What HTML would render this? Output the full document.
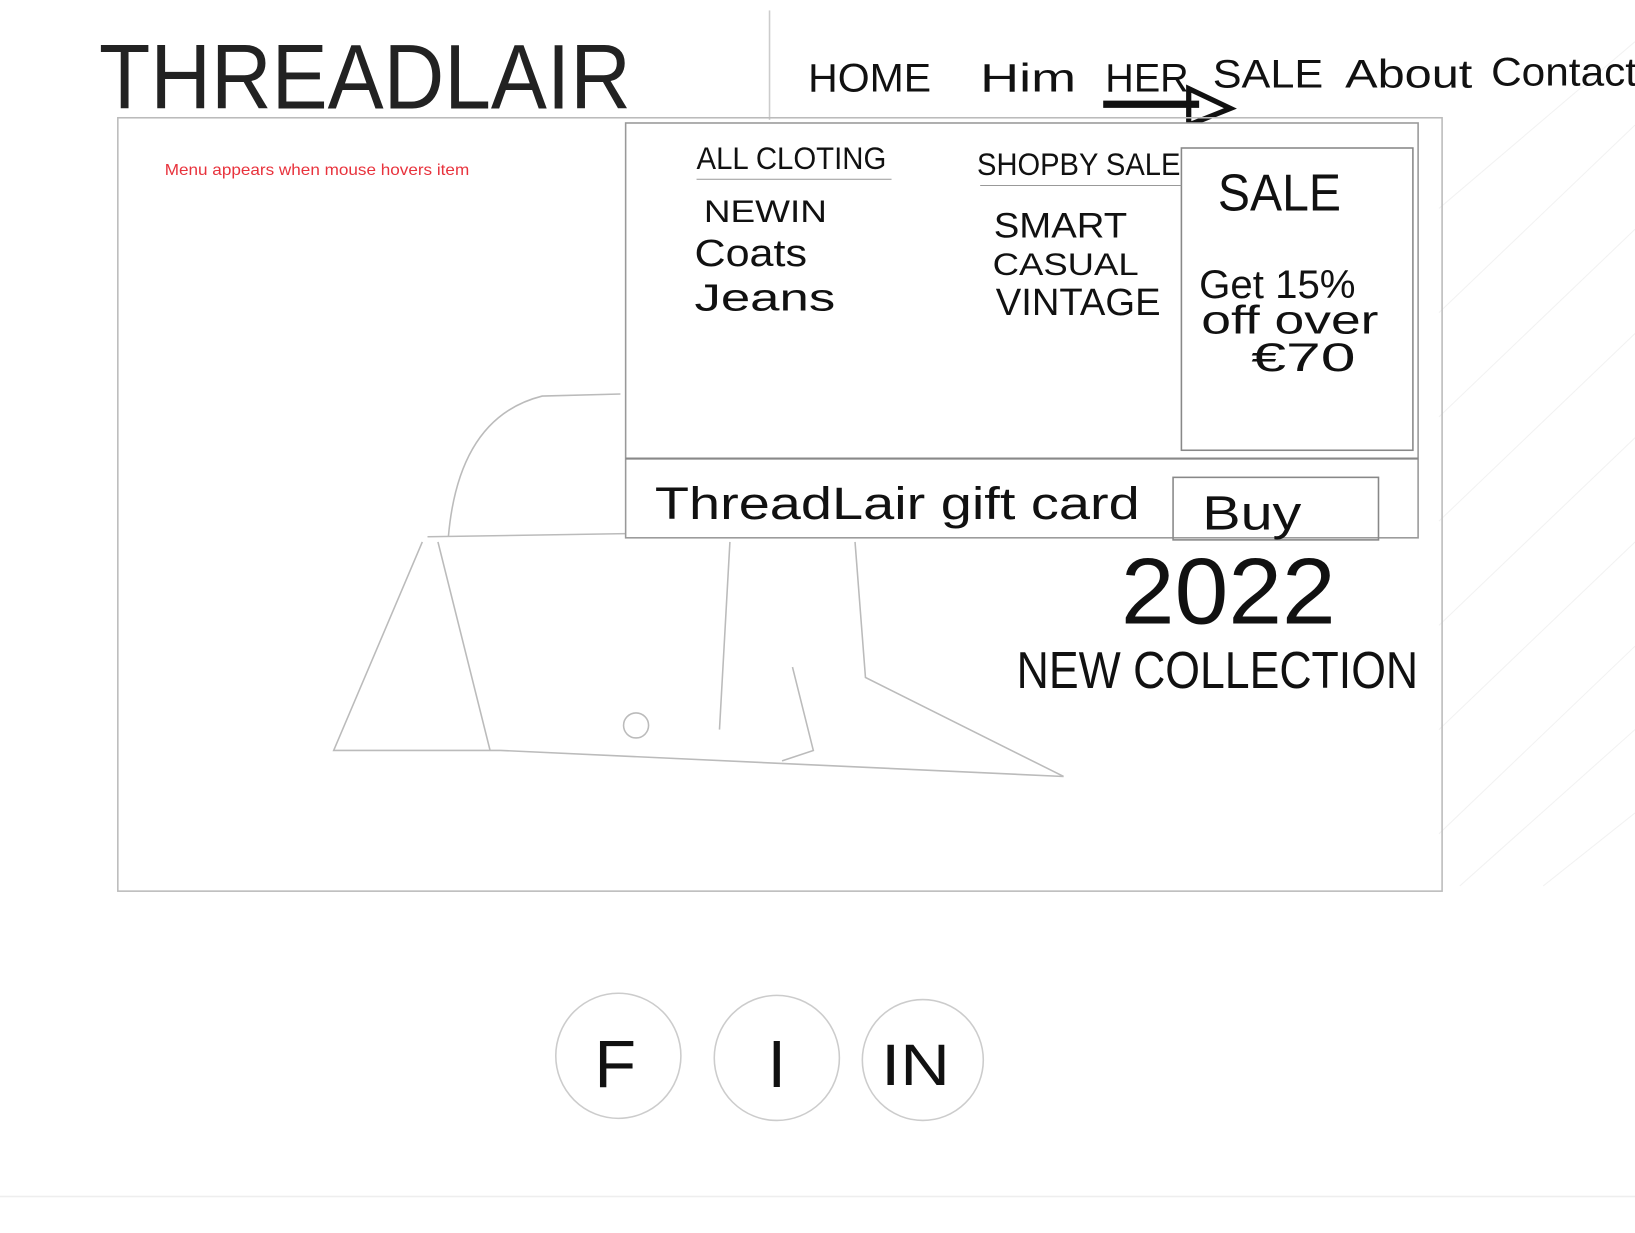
<!DOCTYPE html>
<html><head><meta charset="utf-8"><style>
html,body{margin:0;padding:0;background:#fff;}
svg{display:block;}
text{font-family:"Liberation Sans",sans-serif;fill:#111;}
</style></head><body>
<svg width="1635" height="1233" viewBox="0 0 1568 1183" preserveAspectRatio="none" xmlns="http://www.w3.org/2000/svg">
<rect width="1568" height="1183" fill="#fff"/>
<g stroke="#f2f2f2" stroke-width="1">
<path d="M1380 300 L1568 120 M1380 400 L1568 220 M1380 500 L1568 320 M1380 600 L1568 420 M1380 700 L1568 520 M1380 800 L1568 620 M1400 850 L1568 700 M1480 850 L1568 780 M1380 200 L1568 40"/>
</g>
<text x="95" y="104" font-size="88" textLength="510" lengthAdjust="spacingAndGlyphs" style="font-weight:300;fill:#222">THREADLAIR</text>
<line x1="738" y1="10" x2="738" y2="115" stroke="#ccc" stroke-width="1.5"/>
<g font-size="38">
<text x="775" y="88" textLength="118" lengthAdjust="spacingAndGlyphs">HOME</text>
<text x="940" y="88" textLength="92" lengthAdjust="spacingAndGlyphs">Him</text>
<text x="1060" y="88" textLength="80" lengthAdjust="spacingAndGlyphs">HER</text>
<text x="1163" y="84" textLength="106" lengthAdjust="spacingAndGlyphs">SALE</text>
<text x="1290" y="84" textLength="122" lengthAdjust="spacingAndGlyphs">About</text>
<text x="1430" y="82" textLength="140" lengthAdjust="spacingAndGlyphs">Contact</text>
</g>
<path d="M1058 100 L1150 100" stroke="#111" stroke-width="7"/>
<path d="M1140 85 L1180 104 L1140 120 Z" fill="none" stroke="#111" stroke-width="5"/>
<rect x="113" y="113" width="1270" height="742" fill="none" stroke="#bbb" stroke-width="1.5"/>
<text x="158" y="168" font-size="15" textLength="292" lengthAdjust="spacingAndGlyphs" style="fill:#e8323c">Menu appears when mouse hovers item</text>
<g fill="none" stroke="#bbb" stroke-width="1.5">
<path d="M430 515 Q440 400 520 380 L595 378"/>
<path d="M410 515 L600 512"/>
<path d="M405 520 L320 720 L480 720 L1020 745"/>
<path d="M420 520 L470 720"/>
<path d="M700 520 L690 700 M820 520 L830 650 L1020 745"/>
<path d="M760 640 L780 720 L750 730"/>
<circle cx="610" cy="696" r="12"/>
</g>
<rect x="600" y="118" width="760" height="398" fill="#fff" stroke="#999" stroke-width="1.5"/>
<line x1="600" y1="440" x2="1360" y2="440" stroke="#888" stroke-width="2"/>
<rect x="1133" y="142" width="222" height="290" fill="none" stroke="#888" stroke-width="1.5"/>
<g font-size="30">
<text x="668" y="162" font-size="30" textLength="182" lengthAdjust="spacingAndGlyphs">ALL CLOTING</text>
<line x1="668" y1="172" x2="855" y2="172" stroke="#999"/>
<text x="937" y="168" textLength="195" lengthAdjust="spacingAndGlyphs">SHOPBY SALE</text>
<line x1="940" y1="178" x2="1133" y2="178" stroke="#999"/>
<text x="675" y="213" textLength="118" lengthAdjust="spacingAndGlyphs">NEWIN</text>
<text x="666" y="255" font-size="36" textLength="108" lengthAdjust="spacingAndGlyphs">Coats</text>
<text x="666" y="298" font-size="36" textLength="135" lengthAdjust="spacingAndGlyphs">Jeans</text>
<text x="953" y="228" font-size="34" textLength="128" lengthAdjust="spacingAndGlyphs">SMART</text>
<text x="952" y="264" textLength="140" lengthAdjust="spacingAndGlyphs">CASUAL</text>
<text x="955" y="302" font-size="36" textLength="158" lengthAdjust="spacingAndGlyphs">VINTAGE</text>
<text x="1168" y="202" font-size="50" textLength="118" lengthAdjust="spacingAndGlyphs">SALE</text>
<text x="1150" y="286" font-size="38" textLength="150" lengthAdjust="spacingAndGlyphs">Get 15%</text>
<text x="1152" y="320" font-size="38" textLength="170" lengthAdjust="spacingAndGlyphs">off over</text>
<text x="1200" y="356" font-size="38" textLength="100" lengthAdjust="spacingAndGlyphs">€70</text>
<text x="628" y="498" font-size="44" textLength="465" lengthAdjust="spacingAndGlyphs">ThreadLair gift card</text>
</g>
<rect x="1125" y="458" width="197" height="60" fill="none" stroke="#888" stroke-width="1.5"/>
<text x="1153" y="508" font-size="46" textLength="95" lengthAdjust="spacingAndGlyphs">Buy</text>
<text x="1075" y="598" font-size="90" textLength="206" lengthAdjust="spacingAndGlyphs" style="font-weight:300">2022</text>
<text x="975" y="660" font-size="50" textLength="385" lengthAdjust="spacingAndGlyphs">NEW COLLECTION</text>
<g fill="none" stroke="#ccc" stroke-width="1.5">
<circle cx="593" cy="1013" r="60"/>
<circle cx="745" cy="1015" r="60"/>
<circle cx="885" cy="1017" r="58"/>
</g>
<text x="570" y="1043" font-size="64" textLength="40" lengthAdjust="spacingAndGlyphs">F</text>
<text x="745" y="1043" font-size="64" text-anchor="middle">I</text>
<text x="845" y="1041" font-size="56" textLength="66" lengthAdjust="spacingAndGlyphs">IN</text>
<line x1="0" y1="1148" x2="1568" y2="1148" stroke="#eee" stroke-width="1.5"/>
</svg>
</body></html>
